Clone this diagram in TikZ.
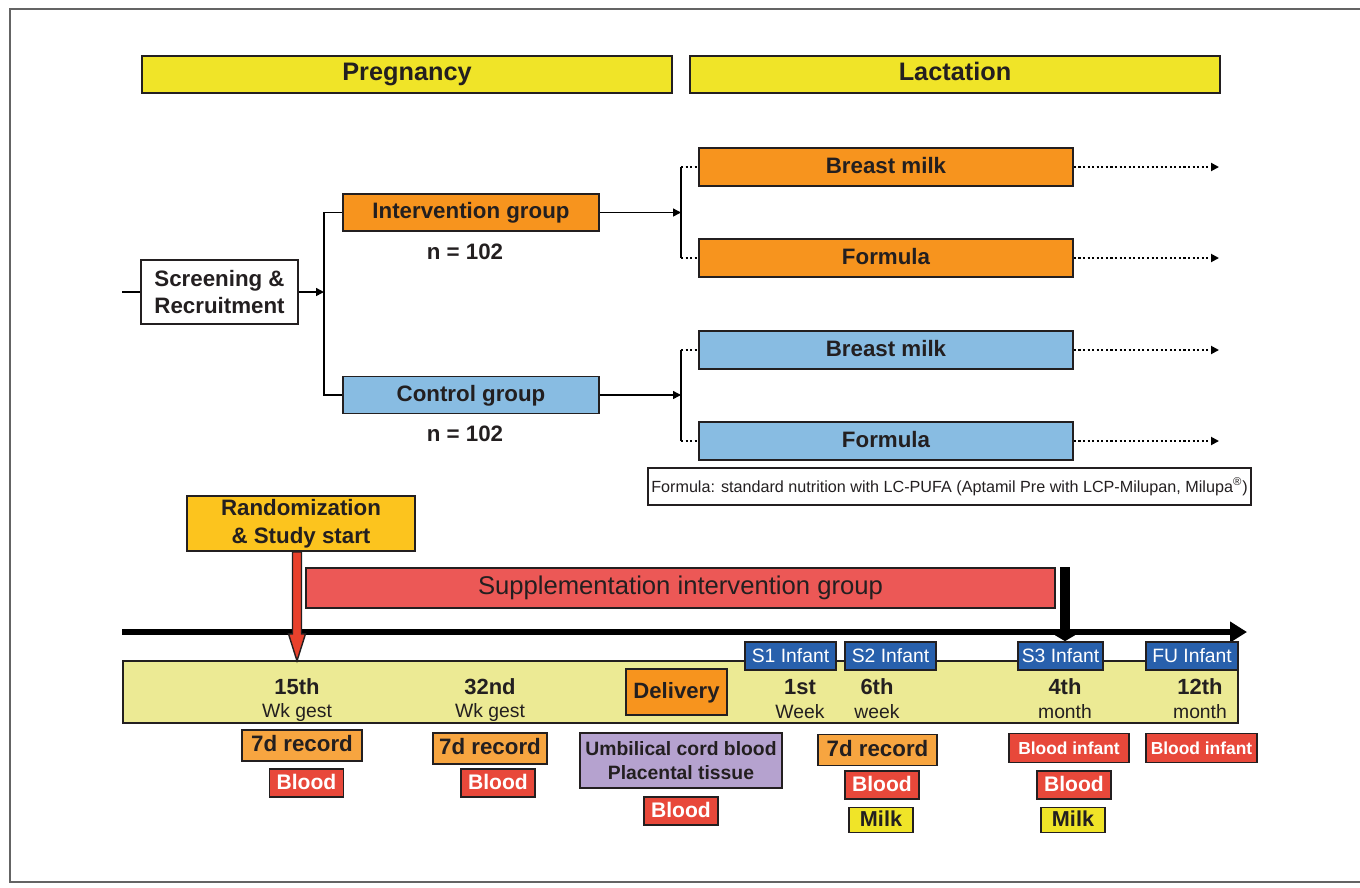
\documentclass[tikz,border=0pt]{standalone}
\usepackage{fontspec}
\setmainfont{Liberation Sans}
\usetikzlibrary{positioning, arrows.meta, calc}

\definecolor{inkgray}{RGB}{35,31,32}
\definecolor{framegray}{RGB}{100,100,100}
\definecolor{hdryellow}{RGB}{240,228,40}
\definecolor{grporange}{RGB}{247,148,30}
\definecolor{grpblue}{RGB}{136,188,226}
\definecolor{startgold}{RGB}{252,196,30}
\definecolor{suppred}{RGB}{236,88,86}
\definecolor{arrowred}{RGB}{232,65,44}
\definecolor{bandyellow}{RGB}{236,234,148}
\definecolor{visitblue}{RGB}{40,96,172}
\definecolor{lilac}{RGB}{181,162,207}
\definecolor{bloodred}{RGB}{232,72,58}
\definecolor{recorange}{RGB}{247,165,64}

\begin{document}
\begin{tikzpicture}[x=0.02cm, y=-0.02cm, line width=0.8pt,
    box/.style={draw=inkgray, line width=1pt, rectangle, inner sep=0pt, align=center, text=inkgray},
    line/.style={box, text height=0.92em, text depth=0.22em},
    phase/.style={line, fill=hdryellow, minimum width=10.6cm, minimum height=0.74cm, font=\bfseries\fontsize{14.4}{16}\selectfont},
    group/.style={line, minimum width=5.12cm, minimum height=0.74cm, font=\bfseries\fontsize{12.7}{14}\selectfont},
    feed/.style={line, minimum width=7.48cm, minimum height=0.76cm, font=\bfseries\fontsize{12.7}{14}\selectfont},
    count/.style={inner sep=0pt, text=inkgray, font=\bfseries\fontsize{12.7}{14}\selectfont},
    visit/.style={line, fill=visitblue, text=white, minimum height=0.56cm, font=\fontsize{11}{12}\selectfont},
    week/.style={text=inkgray, font=\bfseries\fontsize{12.5}{14}\selectfont},
    unit/.style={text=inkgray, font=\fontsize{11}{12}\selectfont},
    record/.style={line, fill=recorange, minimum height=0.62cm, font=\bfseries\fontsize{12.7}{14}\selectfont},
    blood/.style={line, fill=bloodred, text=white, minimum width=1.48cm, minimum height=0.56cm, font=\bfseries\fontsize{12}{14}\selectfont},
    milk/.style={line, fill=hdryellow, minimum width=1.28cm, minimum height=0.5cm, font=\bfseries\fontsize{12.3}{14}\selectfont},
    bloodinf/.style={line, fill=bloodred, text=white, minimum height=0.58cm, font=\bfseries\fontsize{9.9}{12}\selectfont},
    arrow/.style={-{Triangle[length=0.16cm, width=0.16cm]}},
    dotline/.style={dash pattern=on 1.2pt off 1.4pt, line width=1.1pt},
    dotarrow/.style={dotline, arrow}]

    \useasboundingbox (0,0) rectangle (1360,887);
    \draw[framegray, line width=1.2pt] (1360,9) -- (10,9) -- (10,882) -- (1360,882);

    % Phases
    \node[phase] (preg) at (407,74.5) {Pregnancy};
    \node[phase] (lact) at (955,74.5) {Lactation};

    % Study groups
    \node[box, minimum width=3.14cm, minimum height=1.28cm, font=\bfseries\fontsize{12.7}{15}\selectfont] (screen) at (219.5,292) {Screening \&\\Recruitment};
    \node[group, fill=grporange] (interv) at (471,212.5) {Intervention group};
    \node[group, fill=grpblue] (ctrl) at (471,395) {Control group};
    \node[count, below=0.22cm of interv, xshift=-0.12cm] (ninterv) {n = 102};
    \node[count, below=0.22cm of ctrl, xshift=-0.12cm] (nctrl) {n = 102};

    \node[feed, fill=grporange] (ibreast) at (886,167) {Breast milk};
    \node[feed, fill=grporange] (iformula) at (886,258) {Formula};
    \node[feed, fill=grpblue] (cbreast) at (886,350) {Breast milk};
    \node[feed, fill=grpblue] (cformula) at (886,441) {Formula};

    \node[line, minimum width=12.06cm, minimum height=0.74cm, font=\fontsize{9.2}{11}\selectfont] (note) at (949.5,486.5)
        {Formula: standard nutrition with LC-PUFA (Aptamil Pre with LCP-Milupan, Milupa\textsuperscript{\textregistered})};

    % Connectors
    \coordinate (entry) at (122,292);
    \coordinate (split) at (324,292);
    \coordinate (isplit) at (681,212.5);
    \coordinate (csplit) at (681,395);
    \coordinate (feedend) at (1219,0);

    \draw (entry) -- (screen);
    \draw[arrow] (screen) -- (split);
    \draw (interv.west) -| (split) |- (ctrl.west);
    \draw[arrow] (interv) -- (isplit);
    \draw[arrow] (ctrl) -- (csplit);
    \draw (isplit |- ibreast.west) -- (isplit |- iformula.west);
    \draw (csplit |- cbreast.west) -- (csplit |- cformula.west);
    \draw[dotline] (isplit |- ibreast.west) -- (ibreast.west);
    \draw[dotline] (isplit |- iformula.west) -- (iformula.west);
    \draw[dotline] (csplit |- cbreast.west) -- (cbreast.west);
    \draw[dotline] (csplit |- cformula.west) -- (cformula.west);
    \draw[dotarrow] (ibreast.east) -- (ibreast.east -| feedend);
    \draw[dotarrow] (iformula.east) -- (iformula.east -| feedend);
    \draw[dotarrow] (cbreast.east) -- (cbreast.east -| feedend);
    \draw[dotarrow] (cformula.east) -- (cformula.east -| feedend);

    % Timeline
    \node[box, fill=startgold, minimum width=4.56cm, minimum height=1.1cm, font=\bfseries\fontsize{12.7}{16}\selectfont] (rand) at (301,523.5) {Randomization\\\& Study start};
    \node[line, fill=suppred, minimum width=14.98cm, minimum height=0.8cm, font=\fontsize{14.6}{16}\selectfont] (supp) at (680.5,588) {Supplementation intervention group};
    \node[box, fill=bandyellow, minimum width=22.3cm, minimum height=1.24cm] (band) at (680.5,692) {};

    \coordinate (tstart) at (122,632);
    \coordinate (tend) at (1247,632);
    \draw[line width=0.12cm, -{Triangle[length=0.34cm, width=0.4cm]}] (tstart) -- (tend);

    \filldraw[fill=arrowred, draw=inkgray, line width=0.8pt] ($(rand.south)+(-8.5,0)$) -- ++(9,0) -- ++(0,82) -- ++(4,0)
        -- ++(-8.5,27) -- ++(-8.5,-27) -- ++(4,0) -- cycle;

    \node[visit, minimum width=1.82cm] (s1) at (790.5,656) {S1 Infant};
    \node[visit, minimum width=1.82cm] (s2) at (890.5,656) {S2 Infant};
    \node[visit, minimum width=1.7cm] (s3) at (1060.5,656) {S3 Infant};
    \node[visit, minimum width=1.84cm] (fu) at (1192,656) {FU Infant};

    \coordinate (s3top) at ($(s3.north)+(4.5,0)$);
    \draw[line width=0.2cm, -{Triangle[length=0.12cm, width=0.4cm]}] (s3top |- supp.north) -- (s3top);

    \node[week] (w15) at (297,687) {15th};
    \node[unit] (u15) at (297,712) {Wk gest};
    \node[week] (w32) at (490,687) {32nd};
    \node[unit] (u32) at (490,712) {Wk gest};
    \node[line, fill=grporange, minimum width=2.02cm, minimum height=0.92cm, font=\bfseries\fontsize{12.6}{14}\selectfont] (deliv) at (676.5,692) {Delivery};
    \node[week] (w1) at (800,687) {1st};
    \node[unit] (u1) at (800,712) {Week};
    \node[week] (w6) at (877,687) {6th};
    \node[unit] (u6) at (877,712) {week};
    \node[week] (m4) at (1065,687) {4th};
    \node[unit] (um4) at (1065,712) {month};
    \node[week] (m12) at (1200,687) {12th};
    \node[unit] (um12) at (1200,712) {month};

    % Samples
    \node[record, minimum width=2.4cm] (rec15) at (302,745.5) {7d record};
    \node[blood] (blood15) at (306.5,783) {Blood};
    \node[record, minimum width=2.28cm] (rec32) at (490,748.5) {7d record};
    \node[blood] (blood32) at (498,783) {Blood};
    \node[box, fill=lilac, minimum width=4.04cm, minimum height=1.1cm, font=\bfseries\fontsize{11}{13.6}\selectfont] (cord) at (681,760.5) {Umbilical cord blood\\Placental tissue};
    \node[blood] (bloodd) at (681,811) {Blood};
    \node[record, minimum width=2.38cm] (rec6) at (877.5,750) {7d record};
    \node[blood] (blood6) at (882,785) {Blood};
    \node[milk] (milk6) at (881,820) {Milk};
    \node[bloodinf, minimum width=2.4cm] (binf4) at (1069,748) {Blood infant};
    \node[blood] (blood4) at (1074,785) {Blood};
    \node[milk] (milk4) at (1073,820) {Milk};
    \node[bloodinf, minimum width=2.22cm] (binf12) at (1201.5,748) {Blood infant};
\end{tikzpicture}
\end{document}
